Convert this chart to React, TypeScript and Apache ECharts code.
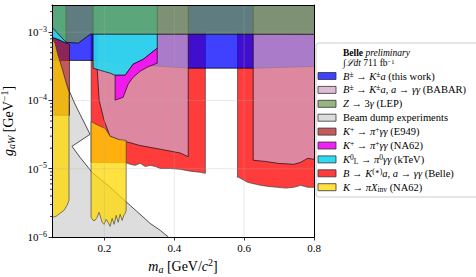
import React, { useEffect, useRef } from "react";
import * as echarts from "echarts";

const SERIF = "'Liberation Serif', 'DejaVu Serif', serif";

// ---- axis values ----
const xTickValues = [0.2, 0.4, 0.6, 0.8];
const xGridValues = [0.2, 0.4, 0.6];
const yGridValues = [1e-5, 1e-4, 1e-3];
const yMinorValues = [
  2e-6, 3e-6, 4e-6, 5e-6, 6e-6, 7e-6, 8e-6, 9e-6,
  2e-5, 3e-5, 4e-5, 5e-5, 6e-5, 7e-5, 8e-5, 9e-5,
  2e-4, 3e-4, 4e-4, 5e-4, 6e-4, 7e-4, 8e-4, 9e-4,
  2e-3,
];

// region extents beyond the visible window (clipped)
const TOP = 1e-2;
const BOTTOM = 5e-7;
const LEFT = 0.04;
const RIGHT = 0.82;

// ---- exclusion regions: [m_a (GeV), g_aW (GeV^-1)] ----
const beamDump = [
  [LEFT, 8.2e-4], [0.05, 8.17e-4], [0.0585, 6.9e-4], [0.0671, 4.6e-4], [0.0786, 2.97e-4],
  [0.09, 1.85e-4], [0.1015, 1.3e-4], [0.1159, 8.8e-5], [0.1302, 6.28e-5], [0.1446, 4.48e-5],
  [0.1589, 3.19e-5], [0.1073, 2.13e-5], [0.1302, 1.47e-5], [0.1647, 8.86e-6], [0.2164, 5.34e-6],
  [0.2738, 2.9e-6], [0.3312, 1.58e-6], [0.36, 1.25e-6], [0.383, 1.0e-6], [0.39, BOTTOM], [LEFT, BOTTOM],
];

const belleLow = [
  [0.162, 1e-3], [0.489, 1e-3], [0.489, 8.56e-6], [0.475, 8.86e-6], [0.446, 9.2e-6],
  [0.417, 9.8e-6], [0.389, 1.01e-5], [0.36, 1.01e-5], [0.346, 1.08e-5], [0.331, 1.12e-5],
  [0.317, 1.08e-5], [0.3025, 1.2e-5], [0.288, 1.12e-5], [0.274, 1.16e-5], [0.262, 1.22e-5],
  [0.162, 1.24e-5],
];
const belleHigh = [
  [0.581, 1e-3], [RIGHT, 1e-3], [RIGHT, 5.34e-6], [0.782, 5.34e-6], [0.762, 5.71e-6],
  [0.742, 5.34e-6], [0.72, 5.2e-6], [0.696, 5.34e-6], [0.67, 5.5e-6], [0.647, 5.71e-6],
  [0.61, 6.32e-6], [0.5845, 7.48e-6], [0.581, 7.48e-6],
];

const thisWork = [
  [LEFT, TOP], [RIGHT, TOP], [RIGHT, 3.17e-4], [0.626, 2.97e-4], [0.44, 2.97e-4],
  [0.36, 3.17e-4], [0.274, 3.4e-4], [0.167, 3.85e-4], [LEFT, 3.88e-4],
];

const babarLow = [
  [0.179, TOP], [0.44, TOP], [0.44, 1.5e-5], [0.417, 1.7e-5], [0.36, 1.93e-5],
  [0.3, 2.2e-5], [0.274, 2.4e-5], [0.245, 2.61e-5], [0.216, 2.99e-5], [0.199, 5.13e-5],
  [0.185, 1.0e-4], [0.179, 3.17e-4],
];
const babarHigh = [
  [0.626, TOP], [RIGHT, TOP], [RIGHT, 1.33e-5], [0.782, 1.42e-5], [0.762, 1.24e-5],
  [0.742, 1.16e-5], [0.696, 1.2e-5], [0.661, 1.28e-5], [0.626, 1.33e-5],
];

const e949 = [
  [LEFT, 8.6e-4], [0.05, 8.45e-4], [0.073, 7.63e-4], [0.09, 6.9e-4], [0.1, 6.67e-4],
  [0.1, 6.07e-5], [LEFT, 6.07e-5],
];

const na62InvLow = [
  [LEFT, 8.2e-4], [0.05, 8.17e-4], [0.0585, 6.9e-4], [0.0671, 4.6e-4], [0.0786, 2.97e-4],
  [0.09, 1.85e-4], [0.0987, 1.32e-4], [0.0987, 3.44e-6], [0.0929, 2.9e-6], [0.0843, 2.45e-6],
  [0.0728, 2.22e-6], [0.0614, 2.0e-6], [0.05, 1.94e-6], [LEFT, 1.94e-6],
];
const na62InvHigh = [
  [0.1618, 4.9e-5], [0.1877, 4.18e-5], [0.202, 3.9e-5], [0.2164, 2.99e-5], [0.2393, 2.7e-5],
  [0.2623, 2.6e-5], [0.2623, 2.45e-6], [0.2594, 2.2e-6], [0.2566, 2.14e-6], [0.2508, 1.75e-6],
  [0.2451, 2.14e-6], [0.2393, 1.64e-6], [0.2336, 2.07e-6], [0.2279, 1.53e-6], [0.2221, 1.87e-6],
  [0.2164, 1.43e-6], [0.2106, 1.64e-6], [0.2049, 1.81e-6], [0.1991, 1.53e-6], [0.1934, 1.64e-6],
  [0.1877, 2.07e-6], [0.1848, 2.29e-6], [0.179, 1.94e-6], [0.1733, 1.75e-6], [0.1676, 1.75e-6],
  [0.1618, 1.94e-6],
];

const ktevLow = [
  [LEFT, TOP], [0.09, TOP], [0.09, 6.9e-4], [0.073, 7.63e-4], [0.05, 8.45e-4], [LEFT, 8.6e-4],
];
const ktevHigh = [
  [0.1676, TOP], [0.3513, TOP], [0.3513, 5.83e-4], [0.3111, 4.0e-4], [0.2824, 3.4e-4],
  [0.2594, 2.34e-4], [0.2307, 2.34e-4], [0.2164, 2.51e-4], [0.1877, 2.77e-4], [0.1676, 2.97e-4],
];

const na62gg = [
  [0.2307, 2.34e-4], [0.2594, 2.34e-4], [0.2824, 3.4e-4], [0.3111, 4.0e-4], [0.3513, 5.83e-4],
  [0.3513, 3.51e-4], [0.3226, 3.07e-4], [0.3025, 2.68e-4], [0.2824, 2.19e-4], [0.268, 1.73e-4],
  [0.2537, 1.114e-4], [0.2307, 1.007e-4],
];

const lep = [
  [LEFT, TOP], [RIGHT, TOP], [RIGHT, 9.3e-4], [0.16, 9.35e-4], [0.125, 6.9e-4],
  [0.09, 7.13e-4], [0.05, 1.18e-3], [LEFT, 1.3e-3],
];

// ---- legend ----
const legendRows = [
  { label: "{i|B}{sup|±} → {i|K}{sup|±}{i|a} (this work)", swatch: "#4040ff" },
  { label: "{i|B}{sup|±} → {i|K}{sup|±}{i|a}, {i|a} → {i|γγ} (BABAR)", swatch: "#debcd5" },
  { label: "{i|Z} → 3{i|γ} (LEP)", swatch: "#98b580" },
  { label: "Beam dump experiments", swatch: "#dcdcdc" },
  { label: "{i|K}{sup|+} → {i|π}{sup|+}{i|γγ} (E949)", swatch: "#c45a5a" },
  { label: "{i|K}{sup|+} → {i|π}{sup|+}{i|γγ} (NA62)", swatch: "#f121f1" },
  { label: "{i|K}{sup|0}{sub|L} → {i|π}{sup|0}{i|γγ} (kTeV)", swatch: "#2fd9f1" },
  { label: "{i|B} → {i|K}{sup|(∗)}{i|a}, {i|a} → {i|γγ} (Belle)", swatch: "#ff3c3c" },
  { label: "{i|K} → {i|πX}{sub|inv} (NA62)", swatch: "#ffe140" },
];

const richSmall = {
  i: { fontFamily: SERIF, fontStyle: "italic", fontSize: 10.5, lineHeight: 12 },
  b: { fontFamily: SERIF, fontWeight: "bold", fontSize: 10.5, lineHeight: 12 },
  sup: { fontFamily: SERIF, fontSize: 7.5, lineHeight: 7, verticalAlign: "top" },
  sub: { fontFamily: SERIF, fontSize: 7.5, lineHeight: 7, verticalAlign: "bottom" },
};

function region(name: string, parts: number[][][], fill: string, stroke: string, color: string, z: number) {
  return {
    type: "custom",
    name,
    coordinateSystem: "cartesian2d",
    clip: true,
    silent: true,
    z,
    itemStyle: { color },
    data: [parts[0][0]],
    renderItem: (_params: any, api: any) => ({
      type: "group",
      children: parts.map((pts) => ({
        type: "polygon",
        shape: { points: pts.map((p) => api.coord(p)) },
        style: { fill, stroke, lineWidth: 0.8 },
      })),
    }),
  };
}

export default function App() {
  const ref = useRef<HTMLDivElement>(null);

  useEffect(() => {
    if (!ref.current) return;
    const chart = echarts.init(ref.current, undefined, { renderer: "svg" });

    const series: any[] = [
      region("Beam dump experiments", [beamDump], "rgb(221,221,221)", "rgba(0,0,0,0.85)", "#dcdcdc", 2),
      region("B → K(*)a, a → γγ (Belle)", [belleLow, belleHigh], "rgb(255,60,60)", "rgba(60,60,60,0.85)", "#ff3c3c", 3),
      region("B± → K±a (this work)", [thisWork], "rgba(0,0,255,0.75)", "rgba(0,0,0,0.9)", "#4040ff", 4),
      region("B± → K±a, a → γγ (BABAR)", [babarLow, babarHigh], "rgba(210,163,197,0.73)", "rgba(30,10,20,0.9)", "#debcd5", 5),
      region("K+ → π+γγ (E949)", [e949], "rgba(172,26,26,0.72)", "rgba(40,0,0,0.8)", "#c45a5a", 6),
      region("K → πX_inv (NA62)", [na62InvLow, na62InvHigh], "rgba(255,215,0,0.75)", "rgba(60,60,60,0.8)", "#ffe140", 7),
      region("K0L → π0γγ (kTeV)", [ktevLow, ktevHigh], "rgba(40,215,240,0.92)", "rgba(0,0,0,0.85)", "#2fd9f1", 8),
      region("K+ → π+γγ (NA62)", [na62gg], "rgba(240,20,240,0.95)", "rgba(40,0,40,0.9)", "#f121f1", 9),
      region("Z → 3γ (LEP)", [lep], "rgba(108,149,74,0.7)", "rgba(0,0,0,0.9)", "#98b580", 10),
      {
        type: "custom",
        name: "grid",
        coordinateSystem: "cartesian2d",
        silent: true,
        clip: true,
        z: 12,
        data: [[0.5, 1e-4]],
        renderItem: (_p: any, api: any) => {
          const children: any[] = [];
          xGridValues.forEach((v) => {
            const a = api.coord([v, 1e-6]);
            const b = api.coord([v, 2.5e-3]);
            children.push({ type: "line", shape: { x1: a[0], y1: a[1], x2: b[0], y2: b[1] }, style: { stroke: "rgba(176,176,176,0.35)", lineWidth: 0.8 } });
          });
          yGridValues.forEach((v) => {
            const a = api.coord([0.05, v]);
            const b = api.coord([0.8, v]);
            children.push({ type: "line", shape: { x1: a[0], y1: a[1], x2: b[0], y2: b[1] }, style: { stroke: "rgba(176,176,176,0.35)", lineWidth: 0.8 } });
          });
          return { type: "group", children };
        },
      },
      {
        type: "custom",
        name: "minorTicks",
        coordinateSystem: "cartesian2d",
        silent: true,
        clip: false,
        z: 20,
        data: yMinorValues.map((v) => [0.05, v]),
        renderItem: (_p: any, api: any) => {
          const c = api.coord([api.value(0), api.value(1)]);
          return { type: "line", shape: { x1: c[0] - 2, y1: c[1], x2: c[0], y2: c[1] }, style: { stroke: "#000", lineWidth: 0.8 } };
        },
      },
    ];

    const graphic: any[] = [
      {
        type: "rect",
        shape: { x: 316, y: 43, width: 175, height: 154, r: 3 },
        style: { fill: "#ffffff", stroke: "#cccccc", lineWidth: 1 },
        z: 50,
      },
      {
        type: "text",
        x: 343,
        y: 52.5,
        z: 51,
        style: {
          text: "{b|Belle} {i|preliminary}",
          fontFamily: SERIF,
          fontSize: 9.5,
          lineHeight: 9,
          fill: "#000",
          verticalAlign: "middle",
          rich: {
            b: { fontFamily: SERIF, fontWeight: "bold", fontSize: 9.5, lineHeight: 9 },
            i: { fontFamily: SERIF, fontStyle: "italic", fontSize: 9.5, lineHeight: 9 },
          },
        },
      },
      {
        type: "text",
        x: 343,
        y: 62.5,
        z: 51,
        style: {
          text: "∫{i|ℒdt} 711 fb{sup|−1}",
          fontFamily: SERIF,
          fontSize: 9.5,
          lineHeight: 9,
          fill: "#000",
          verticalAlign: "middle",
          rich: {
            i: { fontFamily: SERIF, fontStyle: "italic", fontSize: 9.5, lineHeight: 9 },
            sup: { fontFamily: SERIF, fontSize: 6.5, lineHeight: 6, verticalAlign: "top" },
          },
        },
      },
    ];
    legendRows.forEach((row, k) => {
      const cy = 76 + 13.9 * k;
      graphic.push({
        type: "rect",
        shape: { x: 318, y: cy - 3.5, width: 18, height: 7 },
        style: { fill: row.swatch, stroke: "#333", lineWidth: 0.8 },
        z: 51,
      });
      graphic.push({
        type: "text",
        x: 343,
        y: cy,
        z: 51,
        style: {
          text: row.label,
          fontFamily: SERIF,
          fontSize: 10.5,
          lineHeight: 12,
          fill: "#000",
          verticalAlign: "middle",
          rich: richSmall,
        },
      });
    });

    const nameRich = {
      i: { fontFamily: SERIF, fontStyle: "italic", fontSize: 14, lineHeight: 17 },
      sub: { fontFamily: SERIF, fontStyle: "italic", fontSize: 10, lineHeight: 10, verticalAlign: "bottom" },
      sup: { fontFamily: SERIF, fontSize: 10, lineHeight: 10, verticalAlign: "top" },
    };

    const option: any = {
      animation: false,
      grid: { left: 52, right: 162, top: 5, bottom: 40, containLabel: false, outerBoundsMode: "none" },
      xAxis: [
        {
          type: "value",
          min: 0.05,
          max: 0.8,
          position: "bottom",
          z: 30,
          axisLine: { show: true, onZero: false, lineStyle: { color: "#000", width: 1 } },
          axisTick: { show: true, inside: false, length: 3.5, customValues: xTickValues, lineStyle: { color: "#000", width: 0.8 } },
          axisLabel: {
            customValues: xTickValues,
            margin: 5,
            fontFamily: SERIF,
            fontSize: 11,
            color: "#000",
            formatter: (v: number) => v.toFixed(1),
          },
          splitLine: { show: false },
          name: "{i|m}{sub|a} [GeV/{i|c}{sup|2}]",
          nameLocation: "middle",
          nameGap: 17,
          nameTextStyle: {
            fontFamily: SERIF,
            fontSize: 14,
            lineHeight: 17,
            color: "#000",
            rich: nameRich,
          },
        },
        {
          type: "value",
          min: 0,
          max: 1,
          position: "top",
          z: 30,
          axisLine: { show: true, onZero: false, lineStyle: { color: "#000", width: 1 } },
          axisTick: { show: false },
          axisLabel: { show: false },
          splitLine: { show: false },
        },
      ],
      yAxis: [
        {
          type: "log",
          logBase: 10,
          min: 1e-6,
          max: 2.5e-3,
          z: 30,
          axisLine: { show: true, onZero: false, lineStyle: { color: "#000", width: 1 } },
          axisTick: { show: true, inside: false, length: 3.5, lineStyle: { color: "#000", width: 0.8 } },
          axisLabel: {
            showMaxLabel: false,
            margin: 5,
            color: "#000",
            fontFamily: SERIF,
            fontSize: 11,
            formatter: (v: number) => {
              const e = Math.round(Math.log10(v));
              return "{b|10}{e|−" + Math.abs(e) + "}";
            },
            rich: {
              b: { fontFamily: SERIF, fontSize: 11, lineHeight: 14 },
              e: { fontFamily: SERIF, fontSize: 8, lineHeight: 9, verticalAlign: "top" },
            },
          },
          splitLine: { show: false },
          minorTick: { show: false },
          name: "{i|g}{sub|aW} [GeV{sup|−1}]",
          nameLocation: "middle",
          nameGap: 30,
          nameRotate: 90,
          nameTextStyle: {
            fontFamily: SERIF,
            fontSize: 14,
            lineHeight: 17,
            color: "#000",
            rich: nameRich,
          },
        },
        {
          type: "value",
          min: 0,
          max: 1,
          position: "right",
          z: 30,
          axisLine: { show: true, onZero: false, lineStyle: { color: "#000", width: 1 } },
          axisTick: { show: false },
          axisLabel: { show: false },
          splitLine: { show: false },
        },
      ],
      series,
      graphic,
    };

    chart.setOption(option);
    return () => chart.dispose();
  }, []);

  return (
    <div
      ref={ref}
      style={{ position: "fixed", left: 0, top: 0, width: 476, height: 277, background: "#fff" }}
    />
  );
}
